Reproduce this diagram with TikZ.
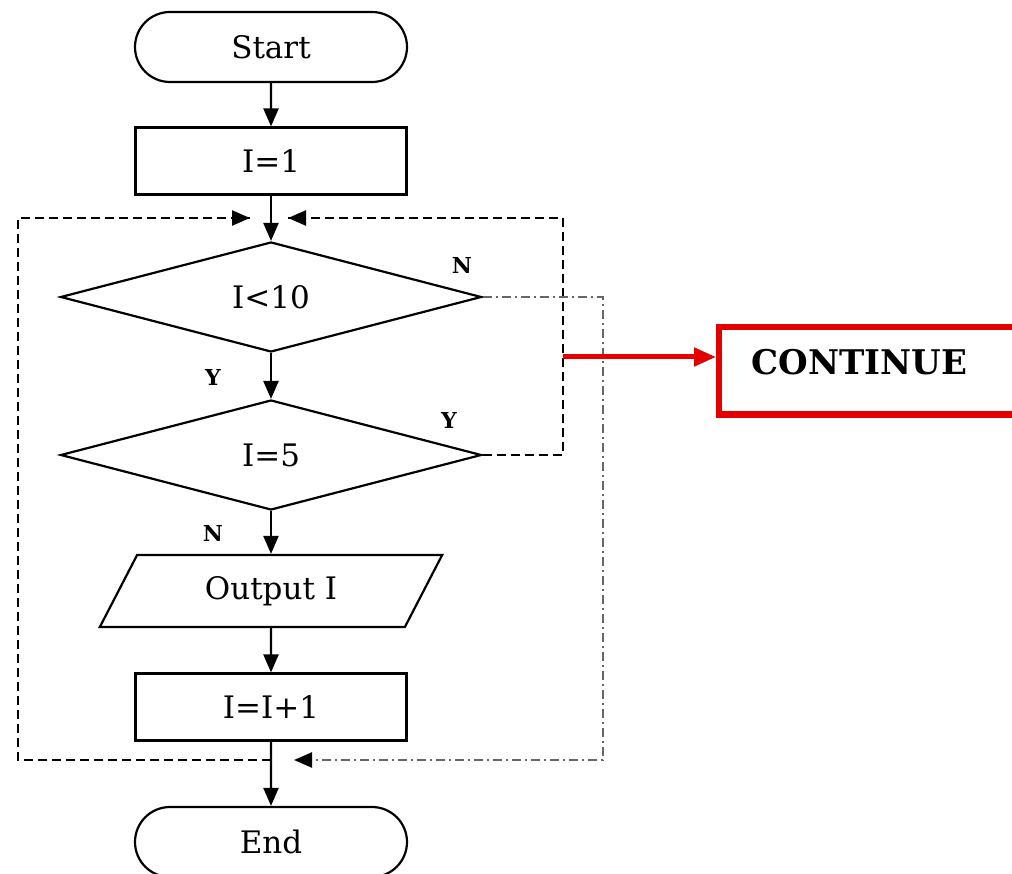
\documentclass[tikz,border=0pt]{standalone}
\usepackage{fontspec}
\setmainfont{DejaVu Serif}
\usetikzlibrary{shapes.geometric,shapes.misc,arrows.meta}

\tikzset{
  flow/.style={draw=black, line width=2.2pt, fill=white, font=\fontsize{31}{34}\selectfont, inner sep=0pt},
  term/.style={flow, rounded rectangle, minimum width=272pt, minimum height=70pt},
  proc/.style={flow, rectangle, minimum width=271pt, minimum height=67pt},
  decide/.style={flow, diamond, minimum width=421pt, minimum height=110pt},
  io/.style={flow, trapezium, trapezium left angle=58, trapezium right angle=122,
             trapezium stretches=true, minimum width=343pt, minimum height=72pt},
  tag/.style={font=\bfseries\fontsize{22}{24}\selectfont},
  conn/.style={draw=black, line width=2.4pt, -{Triangle[length=18pt,width=15pt]}},
  loopline/.style={draw=black, line width=2.4pt, dash pattern=on 9pt off 5pt},
  exitline/.style={draw=black!60, line width=2.4pt, dash pattern=on 9pt off 4pt on 2pt off 4pt},
  tip/.style={draw=black, line width=2.4pt, -{Triangle[length=18pt,width=15pt]}},
  hot/.style={draw=red!90!black, line width=6pt}
}

\begin{document}
\begin{tikzpicture}[x=1pt,y=-1pt]
  \clip (0,0) rectangle (1012,874);
  \fill[white] (0,0) rectangle (1012,874);

  % main column
  \node[term]   (start) at (271,47)  {Start};
  \node[proc]   (init)  at (271,161) {I=1};
  \node[decide] (cmp)   at (271,297) {I<10};
  \node[decide] (five)  at (271,455) {I=5};
  \node[io]     (out)   at (271,591) {Output I};
  \node[proc]   (inc)   at (271,707) {I=I+1};
  \node[term]   (stop)  at (271,842) {End};

  % join points of the loop
  \coordinate (ltip)  at (250,218);
  \coordinate (rtip)  at (288,218);
  \coordinate (bot)   at (271,760);
  \coordinate (btip)  at (294,760);
  \coordinate (jump)  at (563,357);

  % straight flow
  \draw[conn] (start) -- (init);
  \draw[conn] (init) -- (cmp);
  \draw[conn] (cmp) -- (five);
  \draw[conn] (five) -- (out);
  \draw[conn] (out) -- (inc);
  \draw[conn] (inc.south) -- (stop);

  % loop back from I=I+1 to the test
  \draw[loopline] (bot) -- (18,760) -- (18,218) -- (ltip);
  \draw[tip] ([xshift=-2pt]ltip) -- (ltip);

  % I=5 (Y) skips to the next pass
  \draw[loopline] (five.east) -- (563,455) -- (563,218) -- (rtip);
  \draw[tip] ([xshift=2pt]rtip) -- (rtip);

  % I<10 (N) leaves the loop
  \draw[exitline] (cmp.east) -- (603,297) -- (603,760) -- (btip);
  \draw[tip] ([xshift=2pt]btip) -- (btip);

  % branch labels
  \node[tag] (y1) at (213,377) {Y};
  \node[tag] (n1) at (462,265) {N};
  \node[tag] (y2) at (449,420) {Y};
  \node[tag] (n2) at (213,533) {N};

  % CONTINUE call-out
  \node[hot, rectangle, minimum width=320pt, minimum height=87pt, anchor=west,
        inner sep=0pt] (cont) at (716,371) {};
  \node[font=\bfseries\fontsize{34}{36}\selectfont, anchor=west] (ctext) at (748,362) {CONTINUE};
  \draw[red!90!black, line width=5pt, -{Triangle[length=22pt,width=18pt]}]
    (jump) -- (jump -| cont.west);
\end{tikzpicture}
\end{document}
